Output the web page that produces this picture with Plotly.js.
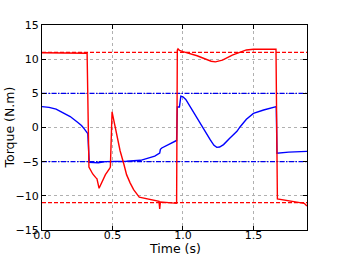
<!DOCTYPE html>
<html>
<head>
<meta charset="utf-8">
<script src="https://cdn.plot.ly/plotly-3.0.1.min.js"></script>
<style>html,body{margin:0;padding:0;background:#fff;}#chart{width:340px;height:256px;}</style>
</head>
<body>
<div id="chart"></div>
<script>
const redT = [0, 0.1, 0.2, 0.32, 0.333, 0.36, 0.38, 0.39, 0.405, 0.42, 0.45, 0.48, 0.485, 0.497, 0.505, 0.52, 0.53, 0.554, 0.58, 0.60, 0.625, 0.65, 0.69, 0.75, 0.83, 0.835, 0.84, 0.90, 0.955, 0.96, 0.965, 0.975, 1.0, 1.1, 1.2, 1.23, 1.28, 1.35, 1.42, 1.45, 1.5, 1.66, 1.67, 1.75, 1.84, 1.86, 1.88];
const redV = [10.95, 10.92, 10.9, 10.86, -5.8, -6.8, -7.3, -7.5, -8.9, -8.2, -6.9, -6.0, -5.8, 2.3, 1.5, -0.5, -1.5, -3.4, -5.3, -6.9, -8.1, -9.1, -10.2, -10.5, -10.8, -11.9, -10.9, -11.0, -11.1, 11.3, 11.5, 11.3, 11.1, 10.5, 9.7, 9.6, 9.85, 10.6, 11.2, 11.35, 11.45, 11.45, -10.45, -10.7, -11.0, -11.1, -11.5];

const blueT = [0, 0.05, 0.1, 0.15, 0.2, 0.25, 0.28, 0.3, 0.325, 0.335, 0.4, 0.45, 0.5, 0.6, 0.7, 0.75, 0.8, 0.835, 0.84, 0.85, 0.9, 0.95, 0.955, 0.96, 0.975, 0.985, 1.0, 1.02, 1.05, 1.1, 1.146, 1.193, 1.22, 1.24, 1.26, 1.288, 1.33, 1.383, 1.406, 1.45, 1.5, 1.572, 1.662, 1.667, 1.75, 1.88];
const blueV = [3.05, 2.95, 2.7, 2.2, 1.6, 0.8, 0.3, -0.2, -0.9, -5.1, -5.15, -5.0, -5.0, -4.95, -4.8, -4.5, -4.2, -3.75, -3.2, -3.0, -2.5, -2.0, -1.9, 3.0, 3.0, 4.6, 4.5, 4.1, 3.05, 1.5, -0.1, -1.78, -2.6, -2.9, -2.85, -2.5, -1.6, -0.56, 0.12, 1.2, 2.07, 2.56, 3.05, -3.75, -3.6, -3.5];

const redLimits = [11, -11];
const blueLimits = [5, -5];
const xSpan = [0, 1.88];
const xTicks = [0, 0.5, 1.0, 1.5];
const xTickText = ['0.0', '0.5', '1.0', '1.5'];
const yTicks = [-15, -10, -5, 0, 5, 10, 15];

const traces = [];
redLimits.forEach(v => traces.push({x: xSpan, y: [v, v], mode: 'lines', line: {color: '#ff0000', width: 1.3, dash: '4px,2px'}, hoverinfo: 'skip'}));
blueLimits.forEach(v => traces.push({x: xSpan, y: [v, v], mode: 'lines', line: {color: '#0000ee', width: 1.3, dash: '5px,1.5px,1.5px,1.5px'}, hoverinfo: 'skip'}));
traces.push({x: blueT, y: blueV, mode: 'lines', line: {color: '#0000ff', width: 1.4}});
traces.push({x: redT, y: redV, mode: 'lines', line: {color: '#ff0000', width: 1.4}});

const axisCommon = {
  showline: true, linecolor: '#000', linewidth: 1, mirror: 'allticks',
  ticks: 'inside', ticklen: 4, tickcolor: '#000',
  showgrid: true, gridcolor: '#b0b0b0', griddash: 'dot', gridwidth: 1,
  zeroline: false, tickfont: {family: 'DejaVu Sans', size: 11, color: '#000'}
};

const layout = {
  width: 340, height: 256,
  margin: {l: 42, r: 33, t: 25, b: 26},
  paper_bgcolor: '#fff', plot_bgcolor: '#fff',
  showlegend: false,
  font: {family: 'DejaVu Sans', size: 11, color: '#000'},
  xaxis: Object.assign({}, axisCommon, {
    range: xSpan, tickvals: xTicks, ticktext: xTickText, ticklabelstandoff: -5
  }),
  yaxis: Object.assign({}, axisCommon, {
    range: [-15, 15], tickvals: yTicks
  }),
  annotations: [
    {text: 'Time (s)', xref: 'paper', yref: 'paper', x: 0.5, y: 0, yshift: -18, xanchor: 'center', yanchor: 'middle', showarrow: false, font: {family: 'DejaVu Sans', size: 12.5, color: '#000'}},
    {text: 'Torque (N.m)', xref: 'paper', yref: 'paper', x: 0, y: 0.5, xshift: -33, xanchor: 'center', yanchor: 'middle', textangle: -90, showarrow: false, font: {family: 'DejaVu Sans', size: 12.5, color: '#000'}}
  ]
};

Plotly.newPlot('chart', traces, layout, {displayModeBar: false, staticPlot: true});
</script>
</body>
</html>
